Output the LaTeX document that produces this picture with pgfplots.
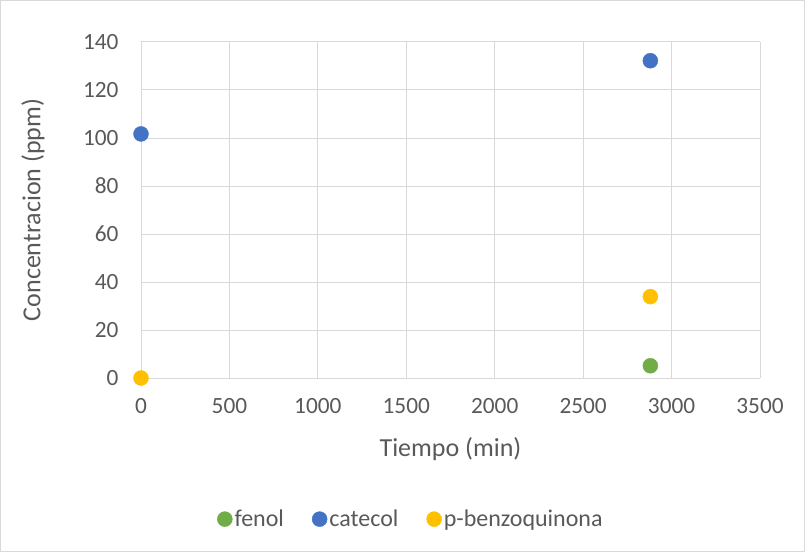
\documentclass[border=0pt]{standalone}
\usepackage{pgfplots}
\pgfplotsset{compat=1.18}
\usepackage{fontspec}
\setmainfont{Carlito}
\definecolor{cgreen}{HTML}{70AD47}
\definecolor{cblue}{HTML}{4472C4}
\definecolor{cyellow}{HTML}{FFC000}
\definecolor{ctext}{HTML}{595959}
\definecolor{cgrid}{HTML}{D9D9D9}
\begin{document}
\begin{tikzpicture}[x=1pt,y=1pt]
\draw[cgrid, line width=1pt] (0.5,0.5) rectangle (804.5,551.5);
\begin{axis}[
  at={(141pt,174pt)}, anchor=south west,
  scale only axis, width=619pt, height=336pt,
  xmin=0, xmax=3500, ymin=0, ymax=140,
  xtick={0,500,...,3500}, ytick={0,20,...,140},
  grid=major, major grid style={cgrid, line width=1pt},
  axis line style={draw=none},
  major tick length=0pt,
  clip=false,
  /pgf/number format/assume math mode=true,
  /pgf/number format/1000 sep={},
  tick label style={font=\fontsize{23.3}{27}\selectfont, text=ctext},
  yticklabel style={xshift=-19pt},
  xticklabel style={yshift=-17pt},
  label style={font=\fontsize{26}{30}\selectfont, text=ctext},
  xlabel={Tiempo (min)},
  ylabel={Concentracion (ppm)},
  xlabel style={at={(axis description cs:0.5,-0.2113)}, anchor=center},
  ylabel style={at={(axis description cs:-0.1745,0.5)}, anchor=center},
  legend style={at={(0.436,-0.42)}, anchor=center, draw=none, fill=none,
    font=\fontsize{24}{27}\selectfont, text=ctext,
    /tikz/every even column/.append style={column sep=26pt}},
  legend columns=3,
  legend image code/.code={\fill[#1] (-4pt,0pt) circle (7.5pt);},
]
\addplot[only marks, mark=*, mark size=7.5pt, color=cgreen] coordinates {(2880,5.1)};
\addlegendentry{fenol}
\addplot[only marks, mark=*, mark size=7.5pt, color=cblue] coordinates {(0,101.7) (2880,132.2)};
\addlegendentry{catecol}
\addplot[only marks, mark=*, mark size=7.5pt, color=cyellow] coordinates {(0,0) (2880,33.9)};
\addlegendentry{p-benzoquinona}
\draw[cgrid, line width=1pt] (rel axis cs:0,0) -- (rel axis cs:1,0);
\end{axis}
\end{tikzpicture}
\end{document}
